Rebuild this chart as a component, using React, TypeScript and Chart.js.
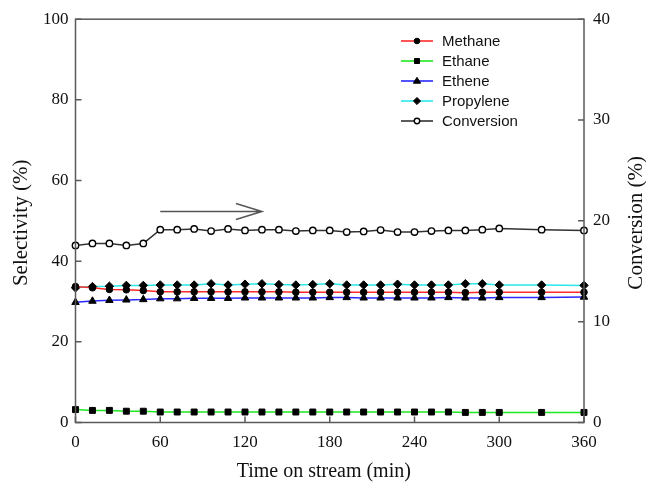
import React, { useEffect, useRef } from "react";
import { Chart, registerables } from "chart.js";

Chart.register(...registerables);

// ---- data ----
const timeMin = [0, 12, 24, 36, 48, 60, 72, 84, 96, 108, 120, 132, 144, 156, 168, 180, 192, 204, 216, 228, 240, 252, 264, 276, 288, 300, 330, 360];
const methane = [33.7, 33.4, 33.0, 32.9, 32.7, 32.4, 32.4, 32.4, 32.4, 32.4, 32.4, 32.4, 32.4, 32.3, 32.3, 32.3, 32.3, 32.3, 32.3, 32.3, 32.3, 32.3, 32.3, 32.2, 32.3, 32.3, 32.3, 32.3];
const ethane = [3.2, 3.0, 3.0, 2.8, 2.8, 2.6, 2.6, 2.6, 2.6, 2.6, 2.6, 2.6, 2.6, 2.6, 2.6, 2.6, 2.6, 2.6, 2.6, 2.6, 2.6, 2.6, 2.6, 2.5, 2.5, 2.5, 2.5, 2.5];
const ethene = [29.8, 30.1, 30.3, 30.4, 30.5, 30.7, 30.7, 30.8, 30.8, 30.8, 30.9, 30.9, 30.9, 30.9, 30.9, 31.0, 31.0, 30.9, 30.9, 30.9, 30.9, 30.9, 31.0, 30.9, 30.9, 31.0, 31.0, 31.1];
const propylene = [33.4, 33.7, 33.8, 34.0, 34.0, 34.1, 34.1, 34.1, 34.4, 34.1, 34.3, 34.4, 34.2, 34.1, 34.2, 34.4, 34.1, 34.1, 34.1, 34.3, 34.1, 34.1, 34.1, 34.4, 34.4, 34.1, 34.1, 34.0];
const conversion = [17.56, 17.76, 17.76, 17.56, 17.76, 19.12, 19.12, 19.2, 18.99, 19.2, 19.05, 19.12, 19.12, 18.99, 19.05, 19.05, 18.89, 18.95, 19.09, 18.89, 18.89, 18.99, 19.05, 19.05, 19.12, 19.25, 19.12, 19.05];

const seriesNames = ["Methane", "Ethane", "Ethene", "Propylene", "Conversion"];
const xTitle = "Time on stream (min)";
const yTitle = "Selectivity (%)";
const y1Title = "Conversion (%)";

// arrow annotation (data units: time, selectivity)
const arrowStart = 60;
const arrowEnd = 132;
const arrowLevel = 52.3;

// ---- styles ----
const AXIS = "#5a5a5a";
const SERIF = "'Liberation Serif', 'DejaVu Serif', 'Times New Roman', serif";
const SANS = "'Liberation Sans', Arial, sans-serif";

function drawMarker(ctx: CanvasRenderingContext2D, style: string, x: number, y: number, r: number, fill: string, stroke: string, bw: number) {
  ctx.beginPath();
  if (style === "circle") {
    ctx.arc(x, y, r, 0, Math.PI * 2);
  } else if (style === "rect") {
    const s = Math.SQRT1_2 * r;
    ctx.rect(x - s, y - s, 2 * s, 2 * s);
  } else if (style === "triangle") {
    ctx.moveTo(x, y - r);
    ctx.lineTo(x + r, y + r * 0.6);
    ctx.lineTo(x - r, y + r * 0.6);
    ctx.closePath();
  } else if (style === "rectRot") {
    ctx.moveTo(x, y - r);
    ctx.lineTo(x + r, y);
    ctx.lineTo(x, y + r);
    ctx.lineTo(x - r, y);
    ctx.closePath();
  }
  ctx.fillStyle = fill;
  ctx.fill();
  ctx.lineWidth = bw;
  ctx.strokeStyle = stroke;
  ctx.stroke();
}

const decorPlugin = {
  id: "decor",
  afterDraw(chart: any) {
    const { ctx, chartArea: a, scales } = chart;
    const xs = scales.x, ys = scales.y, y1s = scales.y1;
    ctx.save();
    // frame
    ctx.strokeStyle = AXIS;
    ctx.lineWidth = 1.5;
    ctx.strokeRect(a.left, a.top, a.right - a.left, a.bottom - a.top);
    // inward ticks
    const tl = 6;
    ctx.beginPath();
    xs.ticks.forEach((t: any) => {
      const px = xs.getPixelForValue(t.value);
      ctx.moveTo(px, a.bottom);
      ctx.lineTo(px, a.bottom - tl);
    });
    ys.ticks.forEach((t: any) => {
      const py = ys.getPixelForValue(t.value);
      ctx.moveTo(a.left, py);
      ctx.lineTo(a.left + tl, py);
    });
    y1s.ticks.forEach((t: any) => {
      const py = y1s.getPixelForValue(t.value);
      ctx.moveTo(a.right, py);
      ctx.lineTo(a.right - tl, py);
    });
    ctx.stroke();

    // arrow
    const ax0 = xs.getPixelForValue(arrowStart);
    const ax1 = xs.getPixelForValue(arrowEnd);
    const ay = ys.getPixelForValue(arrowLevel);
    ctx.strokeStyle = "#555";
    ctx.lineWidth = 1.5;
    ctx.beginPath();
    ctx.moveTo(ax0, ay);
    ctx.lineTo(ax1, ay);
    ctx.moveTo(ax1 - 26, ay - 8);
    ctx.lineTo(ax1, ay);
    ctx.lineTo(ax1 - 26, ay + 8);
    ctx.stroke();

    // axis titles
    ctx.fillStyle = "#111";
    ctx.font = `20px ${SERIF}`;
    ctx.textAlign = "center";
    ctx.textBaseline = "middle";
    ctx.fillText(xTitle, (a.left + a.right) / 2 - 6, 472);
    ctx.font = `21px ${SERIF}`;
    ctx.save();
    ctx.translate(21, (a.top + a.bottom) / 2 + 2);
    ctx.rotate(-Math.PI / 2);
    ctx.fillText(yTitle, 0, 0);
    ctx.restore();
    ctx.save();
    ctx.translate(636, (a.top + a.bottom) / 2 + 2);
    ctx.rotate(-Math.PI / 2);
    ctx.fillText(y1Title, 0, 0);
    ctx.restore();

    // legend
    const lx0 = 401, lx1 = 433, tx = 442;
    let ly = 41;
    ctx.font = `15px ${SANS}`;
    ctx.textAlign = "left";
    chart.data.datasets.forEach((ds: any) => {
      ctx.strokeStyle = ds.borderColor;
      ctx.lineWidth = 1.6;
      ctx.beginPath();
      ctx.moveTo(lx0, ly);
      ctx.lineTo(lx1, ly);
      ctx.stroke();
      drawMarker(ctx, ds.pointStyle, (lx0 + lx1) / 2, ly, ds.pointRadius * 0.85, ds.pointBackgroundColor, ds.pointBorderColor, ds.pointBorderWidth);
      ctx.fillStyle = "#111";
      ctx.fillText(ds.label, tx, ly + 1);
      ly += 20;
    });
    ctx.restore();
  },
};

function pts(vals: number[]) {
  return timeMin.map((t, i) => ({ x: t, y: vals[i] }));
}

export default function App() {
  const ref = useRef<HTMLCanvasElement | null>(null);
  useEffect(() => {
    document.body.style.margin = "0";
    const canvas = ref.current!;
    const mk = (label: string, vals: number[], color: string, style: string, r: number, axis: string, fill = "#000", bw = 1) => ({
      label,
      data: pts(vals),
      borderColor: color,
      backgroundColor: color,
      borderWidth: 1.5,
      pointStyle: style,
      pointRadius: r,
      pointBackgroundColor: fill,
      pointBorderColor: "#000",
      pointBorderWidth: bw,
      yAxisID: axis,
      tension: 0,
      clip: false,
    });
    const chart = new Chart(canvas, {
      type: "line",
      data: {
        datasets: [
          mk(seriesNames[0], methane, "#ff2a2a", "circle", 3.3, "y"),
          mk(seriesNames[1], ethane, "#1ee81e", "rect", 4.2, "y"),
          mk(seriesNames[2], ethene, "#2a2aff", "triangle", 4.3, "y"),
          mk(seriesNames[3], propylene, "#2ae8e8", "rectRot", 4.2, "y"),
          mk(seriesNames[4], conversion, "#333333", "circle", 3.2, "y1", "#ffffff", 1.4),
        ] as any,
      },
      options: {
        responsive: false,
        animation: false,
        devicePixelRatio: 1,
        layout: { padding: { top: 19, left: 0, right: 0, bottom: 0 } },
        plugins: { legend: { display: false }, tooltip: { enabled: false } },
        scales: {
          x: {
            type: "linear",
            min: 0,
            max: 360,
            ticks: { stepSize: 60, color: "#111", font: { family: SERIF, size: 17 }, padding: 10, maxRotation: 0 },
            grid: { display: false, drawTicks: false },
            border: { display: false },
            afterFit: (s: any) => { s.height = 62.5; },
          },
          y: {
            type: "linear",
            position: "left",
            min: 0,
            max: 100,
            ticks: { stepSize: 20, color: "#111", font: { family: SERIF, size: 17 }, padding: 7 },
            grid: { display: false, drawTicks: false },
            border: { display: false },
            afterFit: (s: any) => { s.width = 75.5; },
          },
          y1: {
            type: "linear",
            position: "right",
            min: 0,
            max: 40,
            ticks: { stepSize: 10, color: "#111", font: { family: SERIF, size: 17 }, padding: 9 },
            grid: { display: false, drawTicks: false },
            border: { display: false },
            afterFit: (s: any) => { s.width = 62; },
          },
        },
      } as any,
      plugins: [decorPlugin],
    });
    return () => chart.destroy();
  }, []);
  return (
    <div style={{ width: 646, height: 485 }}>
      <canvas ref={ref} width={646} height={485} style={{ width: 646, height: 485, display: "block" }} />
    </div>
  );
}
